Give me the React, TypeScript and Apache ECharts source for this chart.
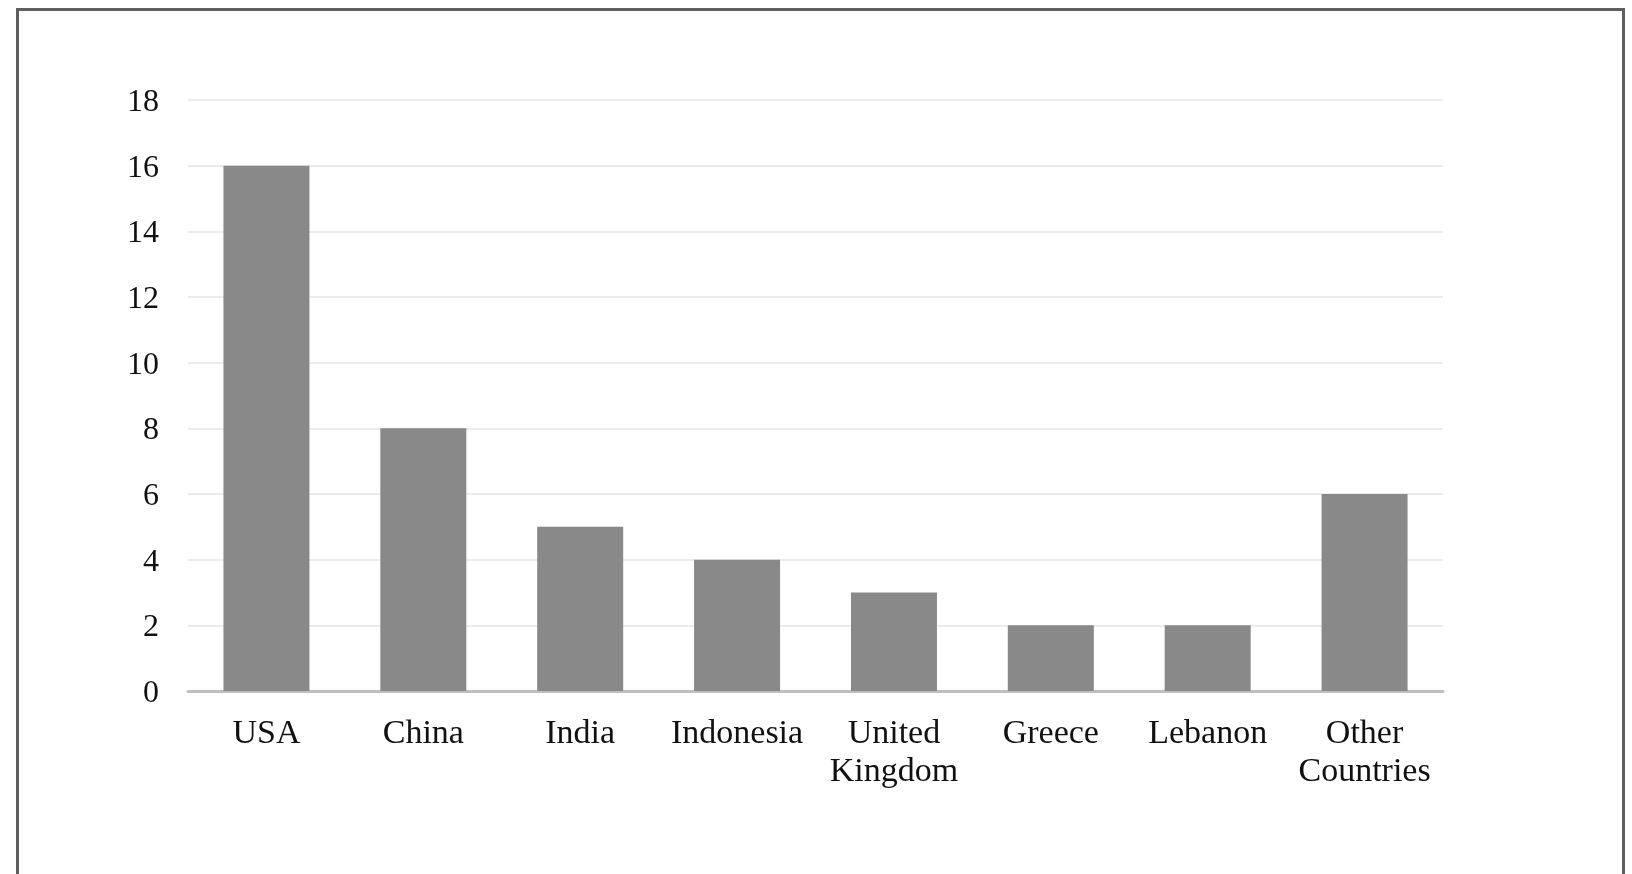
import { useEffect, useRef } from 'react'
import * as echarts from 'echarts'

const countries = ['USA', 'China', 'India', 'Indonesia', 'United\nKingdom', 'Greece', 'Lebanon', 'Other\nCountries']
const counts = [16, 8, 5, 4, 3, 2, 2, 6]
const yTicks = [0, 2, 4, 6, 8, 10, 12, 14, 16, 18]

const FONT = '"Liberation Serif", "Times New Roman", serif'

export default function App() {
  const ref = useRef<HTMLDivElement>(null)

  useEffect(() => {
    if (!ref.current) return
    const chart = echarts.init(ref.current, undefined, { renderer: 'svg' })

    const option: echarts.EChartsOption = {
      animation: false,
      grid: { left: 188, right: 189, top: 100, bottom: 183, containLabel: false },
      xAxis: {
        type: 'category',
        data: countries,
        axisLine: { lineStyle: { color: '#bfbfbf', width: 3 } },
        axisTick: { show: false },
        axisLabel: {
          fontSize: 34,
          lineHeight: 38,
          color: '#111',
          fontFamily: FONT,
          margin: 21,
          interval: 0,
        },
      },
      yAxis: {
        type: 'value',
        min: yTicks[0],
        max: yTicks[yTicks.length - 1],
        interval: 2,
        axisLine: { show: false },
        axisTick: { show: false },
        axisLabel: { fontSize: 32, color: '#111', fontFamily: FONT, margin: 29 },
        splitLine: { lineStyle: { color: '#ececec', width: 2 } },
      },
      series: [
        {
          type: 'bar',
          data: counts,
          barWidth: 86,
          itemStyle: { color: '#898989' },
        },
      ],
    }

    chart.setOption(option)
    return () => chart.dispose()
  }, [])

  return (
    <>
      <div
        style={{
          position: 'fixed',
          left: 16,
          top: 8,
          width: 1609,
          height: 900,
          boxSizing: 'border-box',
          border: '3px solid #5f5f5f',
          borderBottom: 'none',
        }}
      />
      <div
        ref={ref}
        style={{ position: 'fixed', left: 0, top: 0, width: 1632, height: 874 }}
      />
    </>
  )
}
